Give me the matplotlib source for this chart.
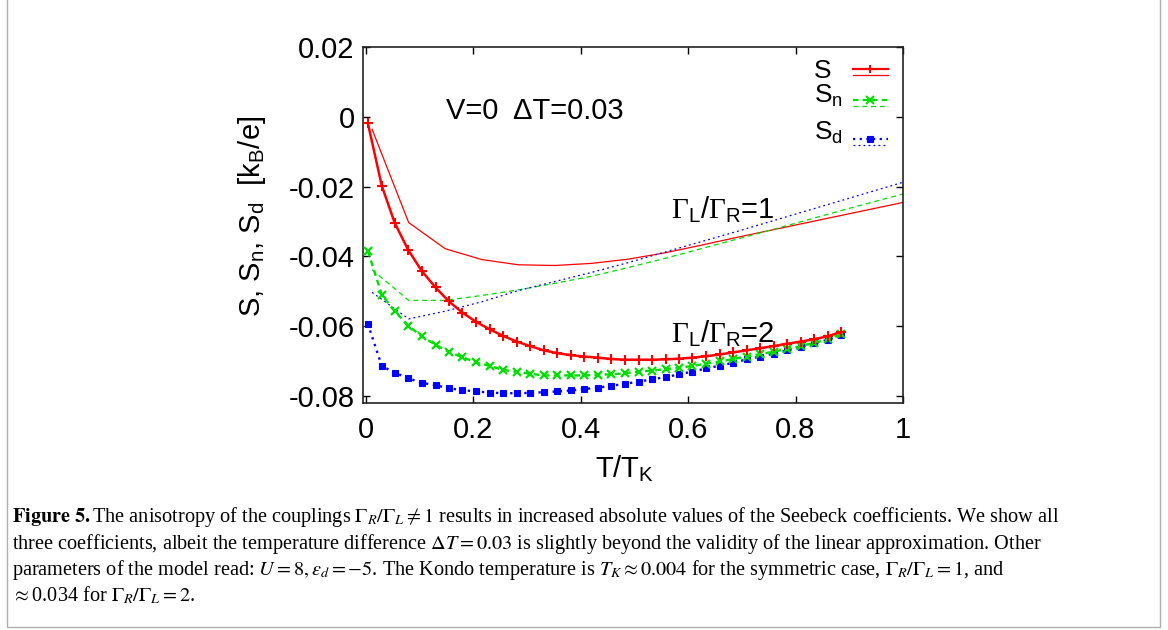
import matplotlib
matplotlib.use("Agg")
import matplotlib.pyplot as plt
from matplotlib.lines import Line2D
from matplotlib.patches import Rectangle

plt.rcParams['font.family'] = ['Liberation Sans', 'DejaVu Sans']
plt.rcParams['mathtext.fontset'] = 'custom'
plt.rcParams['mathtext.rm'] = 'Liberation Sans'
plt.rcParams['mathtext.it'] = 'Liberation Sans:italic'
plt.rcParams['mathtext.bf'] = 'Liberation Sans:bold'
plt.rcParams['mathtext.sf'] = 'Liberation Serif'

# ---------------- data ----------------
# Gamma_L/Gamma_R = 2 (thick lines with markers)
x2 = [0.004, 0.030, 0.054, 0.079, 0.104, 0.130, 0.155, 0.180, 0.205, 0.231,
      0.256, 0.281, 0.306, 0.331, 0.356, 0.382, 0.407, 0.432, 0.457, 0.482,
      0.508, 0.533, 0.558, 0.583, 0.608, 0.634, 0.659, 0.684, 0.709, 0.734,
      0.759, 0.785, 0.810, 0.835, 0.860, 0.885]
S2 = [-0.0018, -0.0198, -0.0304, -0.0381, -0.0441, -0.0489, -0.0529, -0.0561, -0.0587, -0.0609,
      -0.0628, -0.0644, -0.0657, -0.0669, -0.0677, -0.0683, -0.0687, -0.0690, -0.0694, -0.0696,
      -0.0696, -0.0696, -0.0695, -0.0693, -0.0690, -0.0686, -0.0681, -0.0675, -0.0669, -0.0663,
      -0.0657, -0.0650, -0.0644, -0.0637, -0.0629, -0.0616]
Sn2 = [-0.0384, -0.0510, -0.0557, -0.0598, -0.0629, -0.0653, -0.0674, -0.0689, -0.0703, -0.0714,
       -0.0725, -0.0731, -0.0736, -0.0741, -0.0741, -0.0741, -0.0741, -0.0739, -0.0738, -0.0735,
       -0.0730, -0.0727, -0.0723, -0.0719, -0.0714, -0.0707, -0.0701, -0.0694, -0.0687, -0.0680,
       -0.0673, -0.0665, -0.0657, -0.0647, -0.0638, -0.0622]
Sd2 = [-0.0593, -0.0714, -0.0733, -0.0749, -0.0762, -0.0769, -0.0778, -0.0783, -0.0787, -0.0790,
       -0.0792, -0.0792, -0.0791, -0.0789, -0.0787, -0.0784, -0.0780, -0.0776, -0.0771, -0.0765,
       -0.0759, -0.0752, -0.0746, -0.0738, -0.0730, -0.0721, -0.0713, -0.0705, -0.0695, -0.0687,
       -0.0679, -0.0669, -0.0660, -0.0649, -0.0639, -0.0626]

# Gamma_L/Gamma_R = 1 (thin lines)
x1 = [0.012, 0.080, 0.148, 0.216, 0.284, 0.352, 0.420, 0.488, 0.556, 0.624,
      0.692, 0.760, 0.828, 0.896, 0.964, 1.032]
S1 = [-0.0036, -0.0303, -0.0378, -0.0409, -0.0424, -0.0426, -0.0420, -0.0408, -0.0390, -0.0368,
      -0.0345, -0.0323, -0.0301, -0.0279, -0.0257, -0.0235]
Sn1 = [-0.0438, -0.0526, -0.0526, -0.0512, -0.0496, -0.0477, -0.0457, -0.0432, -0.0406, -0.0378,
       -0.0350, -0.0322, -0.0293, -0.0264, -0.0236, -0.0208]
Sd1 = [-0.0503, -0.0579, -0.0557, -0.0530, -0.0498, -0.0472, -0.0446, -0.0418, -0.0388, -0.0358,
       -0.0328, -0.0297, -0.0266, -0.0235, -0.0204, -0.0173]

xticks = [0, 0.2, 0.4, 0.6, 0.8, 1]
xticklabels = ['0', '0.2', '0.4', '0.6', '0.8', '1']
yticks = [0.02, 0, -0.02, -0.04, -0.06, -0.08]
yticklabels = ['0.02', '0', '-0.02', '-0.04', '-0.06', '-0.08']

RED = '#ff0000'
GREEN = '#00e000'
BLUE = '#0000ff'
SQ = 's'

W, H = 1168, 630
fig = plt.figure(figsize=(W / 100, H / 100), dpi=100)
ax = fig.add_axes([363 / W, 1 - 403 / H, 540 / W, 356 / H])

# thin lines (Gamma ratio 1)
ax.plot(x1, S1, color=RED, lw=0.9, zorder=2)
ax.plot(x1, Sn1, color=GREEN, lw=0.9, dashes=(4, 3), zorder=2)
ax.plot(x1, Sd1, color=BLUE, lw=0.9, dashes=(1.5, 2.5), zorder=2)

# thick lines (Gamma ratio 2)
ax.plot(x2, Sd2, color=BLUE, lw=1.7, dashes=(1.0, 2.0), marker=SQ,
        ms=4.3, mew=0.8, zorder=3)
ax.plot(x2, Sn2, color=GREEN, lw=1.7, dashes=(2.5, 1.8), marker='x',
        ms=5.5, mew=1.6, zorder=4)
ax.plot(x2, S2, color=RED, lw=1.8, marker='+', ms=6.5, mew=1.5, zorder=5)

ax.set_xlim(-0.005, 1.0)
ax.set_ylim(-0.082, 0.02)
ax.set_xticks(xticks)
ax.set_xticklabels(xticklabels)
ax.set_yticks(yticks)
ax.set_yticklabels(yticklabels)
ax.tick_params(direction='in', length=5, width=1, top=True, right=True,
               labelsize=21, colors='black')
ax.tick_params(axis='x', pad=9)
ax.tick_params(axis='y', pad=6)
for sp in ax.spines.values():
    sp.set_linewidth(1.2)
    sp.set_color('#222222')

ax.set_ylabel(r'S, S$_\mathrm{n}$, S$_\mathrm{d}$  [k$_\mathrm{B}$/e]', fontsize=21)
ax.yaxis.set_label_coords(-0.176, 0.525)
ax.set_xlabel(r'T/T$_\mathrm{K}$', fontsize=21)
ax.xaxis.set_label_coords(0.485, -0.142)

ax.text(0.153, 0.797, 'V=0  \u0394T=0.03', transform=ax.transAxes, fontsize=21,
        va='baseline', ha='left')
ax.text(0.571, 0.519, r'$\mathsf{\Gamma}_\mathrm{L}/\mathsf{\Gamma}_\mathrm{R}$=1',
        transform=ax.transAxes, fontsize=21, va='baseline', ha='left')
ax.text(0.571, 0.172, r'$\mathsf{\Gamma}_\mathrm{L}/\mathsf{\Gamma}_\mathrm{R}$=2',
        transform=ax.transAxes, fontsize=21, va='baseline', ha='left')

# legend (manual, gnuplot style: thick sample with marker above a thin sample)
leg = [
    ('S', RED, None, None, '+', 6, 1.5, 0.914, 0.938, 0.921),
    (r'S$_\mathrm{n}$', GREEN, (2.5, 1.8), (4, 3), 'x', 6, 1.5, 0.843, 0.851, 0.834),
    (r'S$_\mathrm{d}$', BLUE, (1.0, 2.0), (1.5, 2.5), SQ, 4.3, 0.8, 0.739, 0.742, 0.725),
]
for lab, col, dthick, dthin, mk, msz, mw, ytxt, ythick, ythin in leg:
    ax.text(0.835, ytxt, lab, transform=ax.transAxes, fontsize=19,
            va='baseline', ha='left')
    kw = {} if dthick is None else {'dashes': dthick}
    ax.add_line(Line2D([0.907, 0.972], [ythick, ythick], transform=ax.transAxes,
                       color=col, lw=1.6, clip_on=False, **kw))
    ax.add_line(Line2D([0.9395], [ythick], transform=ax.transAxes, color=col,
                       marker=mk, ms=msz, mew=mw, ls='none', clip_on=False))
    kw = {} if dthin is None else {'dashes': dthin}
    ax.add_line(Line2D([0.907, 0.972], [ythin, ythin], transform=ax.transAxes,
                       color=col, lw=0.9, clip_on=False, **kw))

# caption
cap = [
    r"$\mathbf{Figure\ 5.}$The anisotropy of the couplings $\Gamma_R/\Gamma_L\neq 1$ results in increased absolute values of the Seebeck coefficients. We show all",
    r"three coefficients, albeit the temperature difference $\Delta T = 0.03$ is slightly beyond the validity of the linear approximation. Other",
    r"parameters of the model read: $U = 8, \varepsilon_d = -5$. The Kondo temperature is $T_K \approx 0.004$ for the symmetric case, $\Gamma_R/\Gamma_L = 1$, and",
    r"$\approx$0.034 for $\Gamma_R/\Gamma_L = 2$.",
]
base = [522, 548.5, 575, 601.5]
for line, yb in zip(cap, base):
    fig.text(12 / W, 1 - yb / H, line, fontsize=14.6, family='Liberation Serif',
             math_fontfamily='stix', va='baseline', ha='left')

# frame around the figure panel
fig.add_artist(Rectangle((7 / W, 3 / H), (1160 - 7) / W, 1.0, transform=fig.transFigure,
                         fill=False, edgecolor='#b0b0b0', lw=1.0))

fig.savefig('out.png', dpi=100)
